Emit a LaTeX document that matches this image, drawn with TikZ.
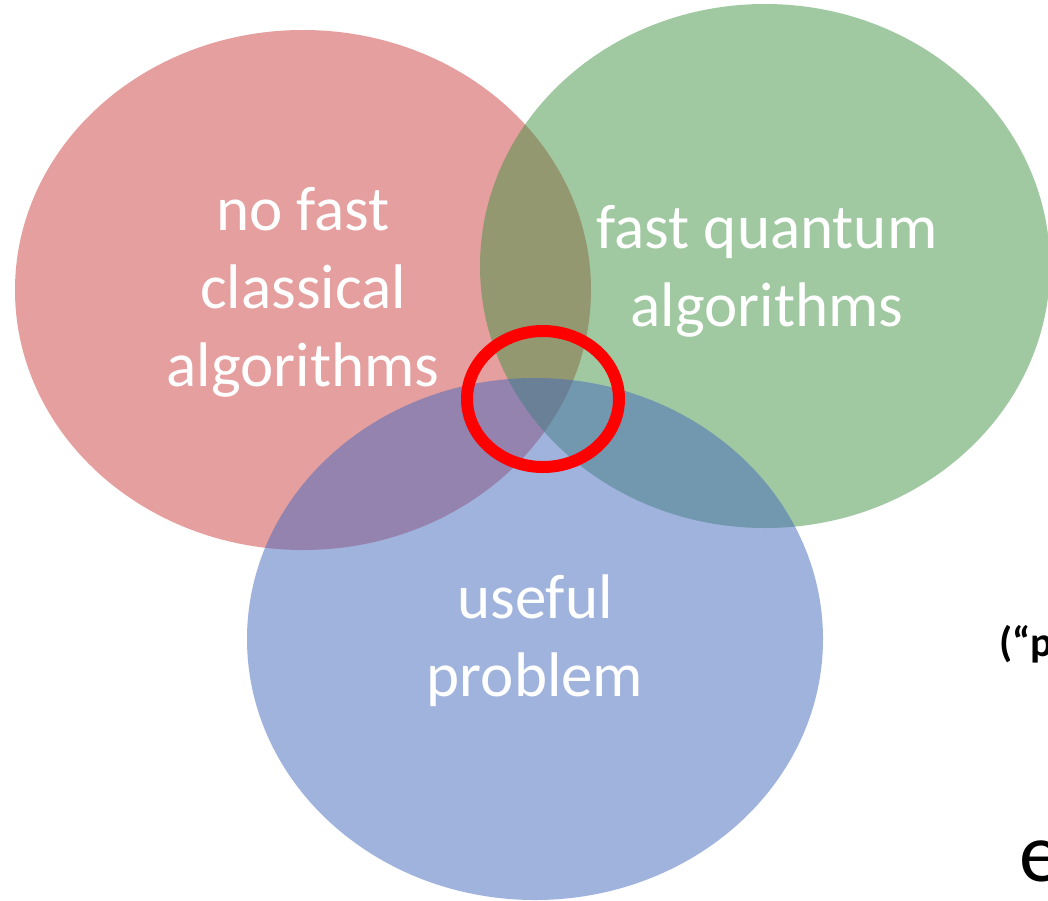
\documentclass[tikz,border=0pt]{standalone}
\usepackage{fontspec}
\setmainfont{Carlito}
\definecolor{vred}{RGB}{205,65,65}
\definecolor{vgreen}{RGB}{67,147,69}
\definecolor{vblue}{RGB}{67,105,189}
\definecolor{ringred}{RGB}{255,0,0}
\begin{document}
\begin{tikzpicture}[x=1pt,y=-1pt,
  setfill/.style={fill=#1,fill opacity=0.5,draw=none},
  settext/.style={text=white,align=center,inner sep=0pt,font=\fontsize{63}{78}\selectfont}]
\fill[white] (0,0) rectangle (1048,900);
\clip (0,0) rectangle (1048,900);
\useasboundingbox (0,0) rectangle (1048,900);
\path[setfill=vred] (303,290) ellipse [x radius=288, y radius=260];
\path[setfill=vgreen] (765,266) ellipse [x radius=285, y radius=262];
\path[setfill=vblue] (535,639) ellipse [x radius=288, y radius=261];
\draw[ringred,line width=12pt] (543,399) ellipse [x radius=76, y radius=68];
\node[settext] (nfc) at (303,292) {no fast\\classical\\algorithms};
\node[settext] (fqa) at (767,271) {fast quantum\\algorithms};
\node[settext] (up) at (535,641) {useful\\problem};
\node[anchor=base west,inner sep=0pt,font=\bfseries\fontsize{42}{50}\selectfont] (pp) at (999,656) {(“p};
\node[anchor=base west,inner sep=0pt,font=\fontsize{84}{100}\selectfont] (ee) at (1019,881) {e};
\end{tikzpicture}
\end{document}
